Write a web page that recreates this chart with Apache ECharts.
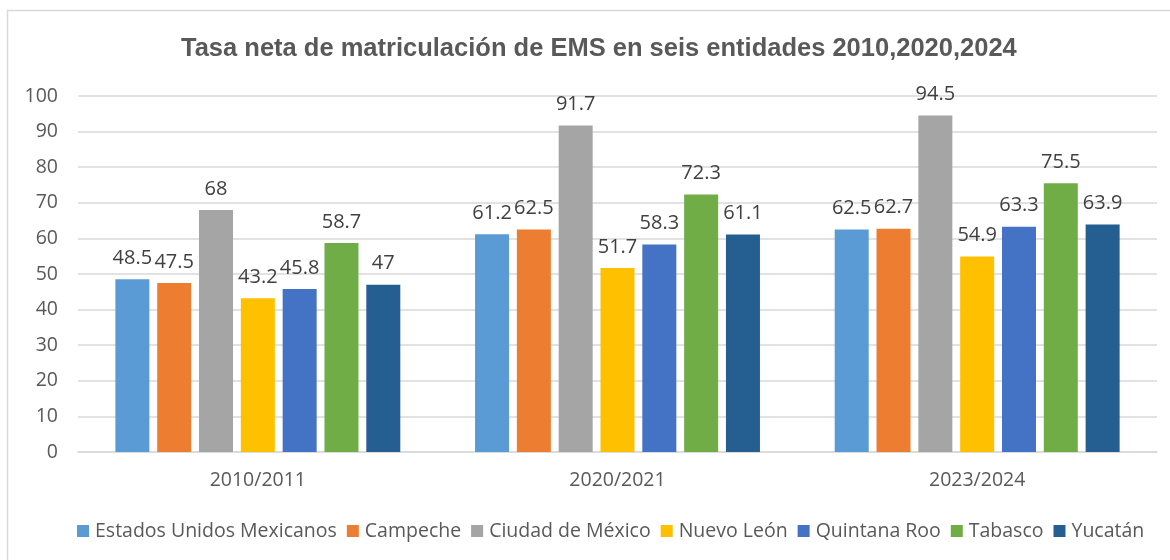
<!DOCTYPE html>
<html><head><meta charset="utf-8">
<script src="https://cdn.jsdelivr.net/npm/echarts@6/dist/echarts.min.js"></script>
<style>html,body{margin:0;padding:0;background:#fff}#c{width:1170px;height:560px}</style>
</head><body><div id="c"></div>
<script>
const categories = ['2010/2011', '2020/2021', '2023/2024'];
const seriesNames = ['Estados Unidos Mexicanos', 'Campeche', 'Ciudad de México', 'Nuevo León', 'Quintana Roo', 'Tabasco', 'Yucatán'];
const estadosUnidosMexicanos = [48.5, 61.2, 62.5];
const campeche = [47.5, 62.5, 62.7];
const ciudadDeMexico = [68, 91.7, 94.5];
const nuevoLeon = [43.2, 51.7, 54.9];
const quintanaRoo = [45.8, 58.3, 63.3];
const tabasco = [58.7, 72.3, 75.5];
const yucatan = [47, 61.1, 63.9];
const yTicks = [0, 10, 20, 30, 40, 50, 60, 70, 80, 90, 100];
const colors = ['#5B9BD5', '#ED7D31', '#A5A5A5', '#FFC000', '#4472C4', '#70AD47', '#255E91'];
const values = [estadosUnidosMexicanos, campeche, ciudadDeMexico, nuevoLeon, quintanaRoo, tabasco, yucatan];

const chart = echarts.init(document.getElementById('c'));
const font = '"Open Sans"';
chart.setOption({
  animation: false,
  color: colors,
  graphic: [{type: 'rect', shape: {x: 7.5, y: 10.5, width: 1180, height: 560}, style: {fill: 'none', stroke: '#d9d9d9', lineWidth: 1.5}}],
  title: {
    text: 'Tasa neta de matriculación de EMS en seis entidades 2010,2020,2024',
    left: 176, top: 31,
    textStyle: {fontFamily: '"Liberation Sans"', fontSize: 25.5, fontWeight: 'bold', color: '#595959'}
  },
  legend: {
    bottom: 14, left: 72, itemWidth: 12, itemHeight: 12, itemGap: 10,
    icon: 'rect',
    textStyle: {fontFamily: font, fontSize: 19.5, color: '#595959', padding: [0, 0, 0, 1]},
    data: seriesNames
  },
  grid: {left: 78, right: 13, top: 96, bottom: 108},
  xAxis: {
    type: 'category', data: categories,
    axisLine: {lineStyle: {color: '#d9d9d9', width: 1.5}},
    axisTick: {show: false},
    axisLabel: {fontFamily: font, fontSize: 19.5, color: '#595959', margin: 18}
  },
  yAxis: {
    type: 'value', min: 0, max: 100, interval: 10,
    axisLine: {show: false}, axisTick: {show: false},
    splitLine: {lineStyle: {color: '#d9d9d9', width: 1.5}},
    axisLabel: {fontFamily: font, fontSize: 19.5, color: '#595959', margin: 20,
      formatter: v => yTicks.includes(v) ? String(v) : ''}
  },
  series: seriesNames.map((n, i) => ({
    name: n, type: 'bar', data: values[i],
    barWidth: 34, barGap: '23%',
    label: {show: true, position: 'top', distance: 11, fontFamily: font, fontSize: 20, color: '#404040'}
  }))
});
</script></body></html>
